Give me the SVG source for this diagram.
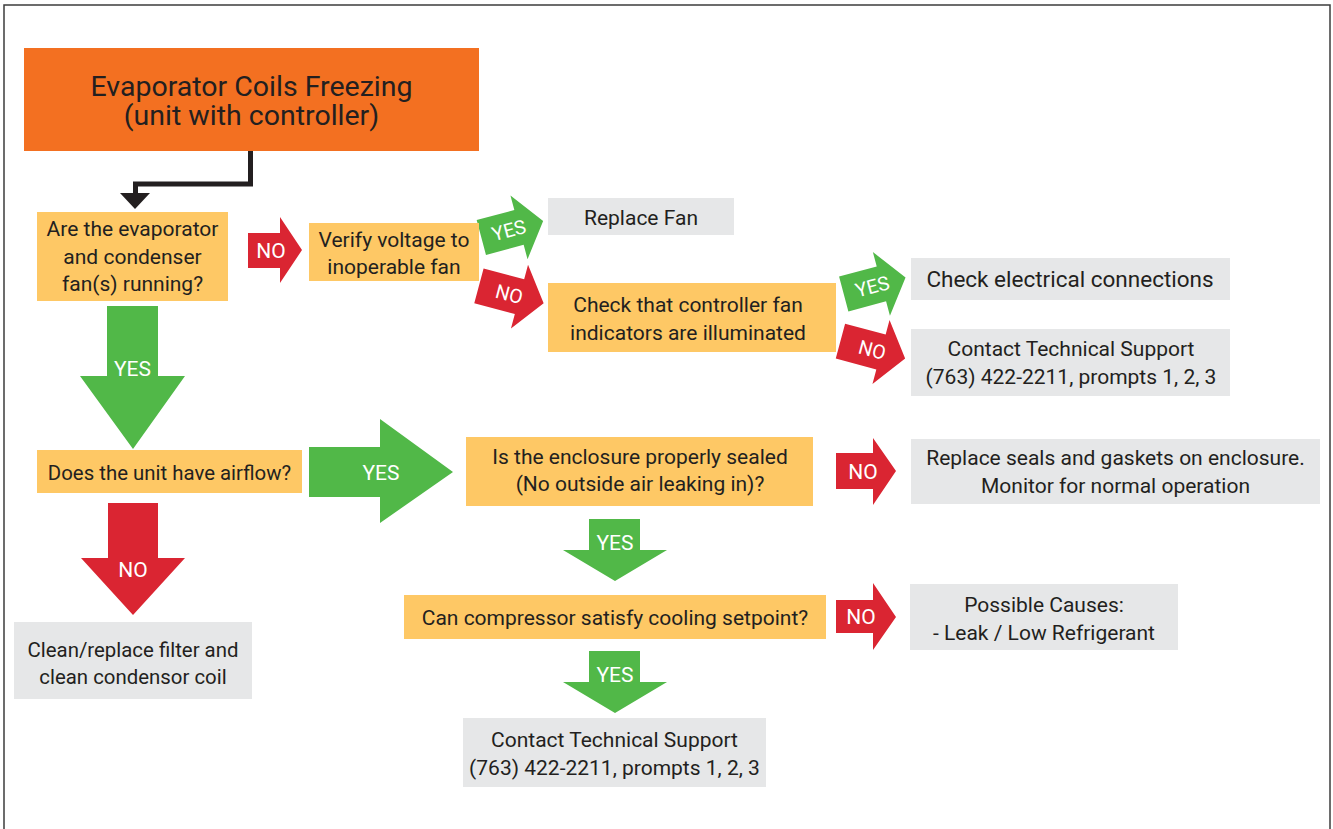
<svg xmlns="http://www.w3.org/2000/svg" width="1333" height="829" viewBox="0 0 1333 829">
<style>
.orange{fill:#F37021}
.yel{fill:#FEC865}
.gray{fill:#E6E7E8}
.green{fill:#51B848}
.red{fill:#DA2532}
text{font-family:Roboto,"Liberation Sans",sans-serif;font-size:21px;fill:#231F20;text-anchor:middle}
.title{font-size:28.5px}
.big{font-size:22.5px}
.sm{font-size:20.4px}
.lbl{fill:#FFFFFF;font-size:21px}
.tl{fill:#FFFFFF;font-size:19.5px}
</style>
<rect x="0" y="0" width="1333" height="829" fill="#FFFFFF"/>
<rect x="4" y="5" width="1326" height="860" fill="none" stroke="#3C3C3C" stroke-width="1.5"/>

<g id="connectors">
  <path d="M250.5,151 V184 H135.5 V195" fill="none" stroke="#231F20" stroke-width="5"/>
  <polygon points="120,193 150,193 135,209" fill="#231F20"/>
  <g id="arrow-no-1">
    <polygon class="red" points="248,233 280,233 280,217 302,250 280,283 280,268 248,268"/>
    <text class="lbl" x="271" y="258">NO</text>
  </g>
  <g id="arrow-yes-1" transform="translate(519,227.4) rotate(-15)">
    <path class="green" d="M-39,-18 H0 V-33 L25,0 L0,33 V18 H-39 Z"/>
    <text class="tl" x="-10.5" y="7">YES</text>
  </g>
  <g id="arrow-no-2" transform="translate(519.5,296.7) rotate(15)">
    <path class="red" d="M-42,-18 H0 V-33 L25,0 L0,33 V18 H-42 Z"/>
    <text class="tl" x="-10.5" y="7">NO</text>
  </g>
  <g id="arrow-yes-2" transform="translate(881.4,283.9) rotate(-15)">
    <path class="green" d="M-39,-18 H0 V-33 L25,0 L0,33 V18 H-39 Z"/>
    <text class="tl" x="-9.5" y="7">YES</text>
  </g>
  <g id="arrow-no-3" transform="translate(881,352) rotate(15)">
    <path class="red" d="M-42,-18 H0 V-33 L25,0 L0,33 V18 H-42 Z"/>
    <text class="tl" x="-9" y="7">NO</text>
  </g>
  <g id="arrow-yes-3">
    <polygon class="green" points="107,306 158,306 158,376 185,376 133,449 80,376 107,376"/>
    <text class="lbl" x="132.5" y="376">YES</text>
  </g>
  <g id="arrow-yes-4">
    <polygon class="green" points="309,447 380,447 380,419 453,472 380,523 380,497 309,497"/>
    <text class="lbl" x="381" y="480">YES</text>
  </g>
  <g id="arrow-no-4">
    <polygon class="red" points="108,503 158,503 158,558 185,558 133,615 81,558 108,558"/>
    <text class="lbl" x="133" y="577">NO</text>
  </g>
  <g id="arrow-no-5">
    <polygon class="red" points="836,453 873,453 873,438 896,471 873,505 873,489 836,489"/>
    <text class="lbl" x="863" y="479">NO</text>
  </g>
  <g id="arrow-yes-5">
    <polygon class="green" points="589,519 640,519 640,550 667,550 615,581 563,550 589,550"/>
    <text class="lbl" x="615" y="550">YES</text>
  </g>
  <g id="arrow-no-6">
    <polygon class="red" points="836,600 873,600 873,583 896,617 873,650 873,633 836,633"/>
    <text class="lbl" x="861" y="624">NO</text>
  </g>
  <g id="arrow-yes-6">
    <polygon class="green" points="589,651 640,651 640,682 667,682 615,713 563,682 589,682"/>
    <text class="lbl" x="615" y="682">YES</text>
  </g>
</g>

<g id="n-title">
  <rect class="orange" x="24" y="48" width="455" height="103"/>
  <text class="title" x="251.5" y="96">Evaporator Coils Freezing</text>
  <text class="title" x="251.5" y="125">(unit with controller)</text>
</g>
<g id="n-fans">
  <rect class="yel" x="37" y="212" width="191" height="89"/>
  <text x="132.5" y="236">Are the evaporator</text>
  <text x="132.5" y="263.5">and condenser</text>
  <text x="132.5" y="291">fan(s) running?</text>
</g>
<g id="n-verify">
  <rect class="yel" x="309" y="223" width="170" height="58"/>
  <text x="394" y="246.5">Verify voltage to</text>
  <text x="394" y="274">inoperable fan</text>
</g>
<g id="n-replacefan">
  <rect class="gray" x="548" y="198" width="186" height="37"/>
  <text x="641" y="224.5">Replace Fan</text>
</g>
<g id="n-controller">
  <rect class="yel" x="548" y="283" width="288" height="69"/>
  <text x="688" y="312">Check that controller fan</text>
  <text x="688" y="340">indicators are illuminated</text>
</g>
<g id="n-electrical">
  <rect class="gray" x="911" y="258" width="319" height="42"/>
  <text class="big" x="1070" y="287">Check electrical connections</text>
</g>
<g id="n-support1">
  <rect class="gray" x="911" y="329" width="319" height="67"/>
  <text x="1071" y="356">Contact Technical Support</text>
  <text x="1071" y="384">(763) 422-2211, prompts 1, 2, 3</text>
</g>
<g id="n-airflow">
  <rect class="yel" x="37" y="450" width="265" height="43"/>
  <text class="sm" x="169.5" y="480">Does the unit have airflow?</text>
</g>
<g id="n-sealed">
  <rect class="yel" x="466" y="437" width="347" height="69"/>
  <text x="640" y="463.5">Is the enclosure properly sealed</text>
  <text x="640" y="491">(No outside air leaking in)?</text>
</g>
<g id="n-seals">
  <rect class="gray" x="911" y="439" width="409" height="65"/>
  <text x="1115.5" y="465">Replace seals and gaskets on enclosure.</text>
  <text x="1115.5" y="493">Monitor for normal operation</text>
</g>
<g id="n-clean">
  <rect class="gray" x="14" y="622" width="238" height="77"/>
  <text class="sm" x="133" y="657">Clean/replace filter and</text>
  <text class="sm" x="133" y="684">clean condensor coil</text>
</g>
<g id="n-compressor">
  <rect class="yel" x="404" y="595" width="422" height="44"/>
  <text x="615" y="624.5">Can compressor satisfy cooling setpoint?</text>
</g>
<g id="n-causes">
  <rect class="gray" x="910" y="584" width="268" height="66"/>
  <text x="1044" y="612">Possible Causes:</text>
  <text x="1044" y="640">- Leak / Low Refrigerant</text>
</g>
<g id="n-support2">
  <rect class="gray" x="463" y="718" width="303" height="69"/>
  <text x="614.5" y="747">Contact Technical Support</text>
  <text x="614.5" y="775">(763) 422-2211, prompts 1, 2, 3</text>
</g>
</svg>
